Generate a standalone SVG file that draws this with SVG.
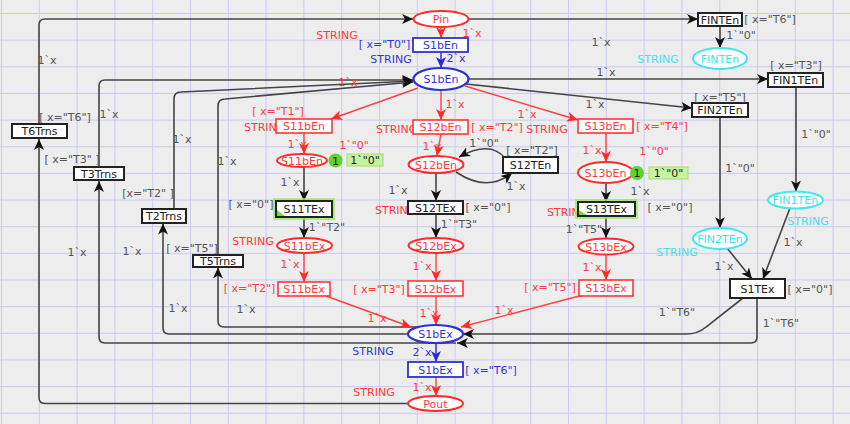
<svg xmlns="http://www.w3.org/2000/svg" width="850" height="424" viewBox="0 0 850 424">
<defs>
<pattern id="grid" patternUnits="userSpaceOnUse" x="1" y="13" width="37.8" height="26.65">
<path d="M0,0.5 H37.8 M0.5,0 V26.65" fill="none" stroke="#cacaf2" stroke-width="1"/>
</pattern>
<marker id="aK" markerUnits="userSpaceOnUse" markerWidth="12" markerHeight="10" refX="11" refY="5" orient="auto"><path d="M0,0 L11,5 L0,10 L3,5 Z" fill="#111"/></marker>
<marker id="aR" markerUnits="userSpaceOnUse" markerWidth="12" markerHeight="10" refX="11" refY="5" orient="auto"><path d="M0,0 L11,5 L0,10 L3,5 Z" fill="#ff2a2a"/></marker>
<marker id="aB" markerUnits="userSpaceOnUse" markerWidth="12" markerHeight="10" refX="11" refY="5" orient="auto"><path d="M0,0 L11,5 L0,10 L3,5 Z" fill="#2a2ad8"/></marker>
<style>
text{font-family:"DejaVu Sans",Verdana,sans-serif;font-size:11px}
.m{text-anchor:middle}
.r{fill:#ff3b3b}.b{fill:#3434d8}.c{fill:#3fe2ee}.g{fill:#555}.k{fill:#222}
.tk{fill:#fff;stroke:#222;stroke-width:2}
.tr{fill:#fff;stroke:#ff3535;stroke-width:1.6}
.tb{fill:#fff;stroke:#2f2fd8;stroke-width:1.8}
.pr{fill:#fff;stroke:#ff2a2a;stroke-width:2}
.pb{fill:#fff;stroke:#2f2fd8;stroke-width:2.2}
.pc{fill:#fff;stroke:#3fe6f2;stroke-width:2}
.ak{fill:none;stroke:#454545;stroke-width:1.6}
.ar{fill:none;stroke:#ff4040;stroke-width:1.4}
.ab{fill:none;stroke:#3030d8;stroke-width:1.5}
.glow{fill:none;stroke:#9be86a;stroke-width:4;opacity:.8}
.tok{fill:#5fd52a}
.tbox{fill:#c9f29e;stroke:#a5dd70;stroke-width:1}
</style>
</defs>
<rect width="850" height="424" fill="#ededed"/>
<rect width="850" height="424" fill="url(#grid)"/>

<g id="connectors">
<path class="ak" d="M408,403.5 H45 Q39,403.5 39,397.5 V139" marker-end="url(#aK)"/>
<path class="ak" d="M39,124 V25 Q39,19 45,19 H413" marker-end="url(#aK)"/>
<path class="ak" d="M468.5,19 H698" marker-end="url(#aK)"/>
<path class="ak" d="M99,167 V86 Q99,80 105,80 H413" marker-end="url(#aK)"/>
<path class="ak" d="M174,209 V99 Q174,92 181,92 L413,81" marker-end="url(#aK)"/>
<path class="ak" d="M218,255 V106 Q218,99 225,99 L413,82" marker-end="url(#aK)"/>
<path class="ak" d="M418,327 H224 Q218,327 218,321 V267.5" marker-end="url(#aK)"/>
<path class="ak" d="M408,334 H169 Q163,334 163,328 V223.5" marker-end="url(#aK)"/>
<path class="ak" d="M757,298 V337 Q757,343 751,343 H457" marker-end="url(#aK)"/>
<path class="ak" d="M456,343 H105 Q99,343 99,337 V181" marker-end="url(#aK)"/>
<path class="ak" d="M743,298 L706,327 Q698,334 686,334 H463" marker-end="url(#aK)"/>
<path class="ak" d="M468.5,79 H768" marker-end="url(#aK)"/>
<path class="ak" d="M466,84 L692,108" marker-end="url(#aK)"/>
<path class="ak" d="M720,26 V48" marker-end="url(#aK)"/>
<path class="ak" d="M796,87 V191.5" marker-end="url(#aK)"/>
<path class="ak" d="M720,117 V228" marker-end="url(#aK)"/>
<path class="ak" d="M727,248 L752,279" marker-end="url(#aK)"/>
<path class="ak" d="M790,208 L763,279" marker-end="url(#aK)"/>
<path class="ar" d="M441,27 V38" marker-end="url(#aR)"/>
<path class="ab" d="M441,52 V68" marker-end="url(#aB)"/>
<path class="ar" d="M418,88 L331,119" marker-end="url(#aR)"/>
<path class="ar" d="M441,90 V120" marker-end="url(#aR)"/>
<path class="ar" d="M465,86 L578,120" marker-end="url(#aR)"/>
<path class="ar" d="M304,133 V154" marker-end="url(#aR)"/>
<path class="ak" d="M304,167 V201" marker-end="url(#aK)"/>
<path class="ak" d="M304,217 V238" marker-end="url(#aK)"/>
<path class="ar" d="M304,253 V282" marker-end="url(#aR)"/>
<path class="ar" d="M326,296 L411,327" marker-end="url(#aR)"/>
<path class="ar" d="M441,134 L437,156" marker-end="url(#aR)"/>
<path class="ak" d="M436,173 V201" marker-end="url(#aK)"/>
<path class="ak" d="M436,214 V238" marker-end="url(#aK)"/>
<path class="ar" d="M436,253 V281" marker-end="url(#aR)"/>
<path class="ar" d="M436,296 V325" marker-end="url(#aR)"/>
<path class="ar" d="M606,133 V162" marker-end="url(#aR)"/>
<path class="ak" d="M606,183 V202" marker-end="url(#aK)"/>
<path class="ak" d="M606,216 V238" marker-end="url(#aK)"/>
<path class="ar" d="M606,254.5 V280" marker-end="url(#aR)"/>
<path class="ar" d="M583,295 L461,327" marker-end="url(#aR)"/>
<path class="ab" d="M436,343 V362" marker-end="url(#aB)"/>
<path class="ar" d="M436,377 V396" marker-end="url(#aR)"/>
<path class="ak" d="M505,158 Q490,140 459,157" marker-end="url(#aK)"/>
<path class="ak" d="M456,172 Q487,193 512,173" marker-end="url(#aK)"/>

<g id="arc-labels">
<text class="g m" x="47" y="64">1`x</text>
<text class="g m" x="109" y="118">1`x</text>
<text class="g m" x="182" y="143">1`x</text>
<text class="g m" x="227" y="165">1`x</text>
<text class="g m" x="77" y="256">1`x</text>
<text class="g m" x="132" y="255">1`x</text>
<text class="g m" x="178" y="312">1`x</text>
<text class="g m" x="246" y="313">1`x</text>
<text class="g m" x="290" y="186">1`x</text>
<text class="g m" x="327" y="231">1`"T2"</text>
<text class="g m" x="398" y="194">1`x</text>
<text class="g m" x="484" y="147">1`"0"</text>
<text class="g m" x="516" y="190">1`x</text>
<text class="g m" x="459" y="228">1`"T3"</text>
<text class="g m" x="640" y="195">1`x</text>
<text class="g m" x="584" y="233">1`"T5"</text>
<text class="g m" x="601" y="46">1`x</text>
<text class="g m" x="606" y="76">1`x</text>
<text class="g m" x="595" y="108">1`x</text>
<text class="g m" x="741" y="39">1`"0"</text>
<text class="g m" x="816" y="138">1`"0"</text>
<text class="g m" x="740" y="172">1`"0"</text>
<text class="g m" x="724" y="270">1`x</text>
<text class="g m" x="793" y="246">1`x</text>
<text class="g m" x="677" y="316">1`"T6"</text>
<text class="g m" x="781" y="327">1`"T6"</text>
<text class="r m" x="472" y="37">1`x</text>
<text class="r m" x="348" y="86">1`x</text>
<text class="r m" x="297" y="148">1`x</text>
<text class="r m" x="290" y="268">1`x</text>
<text class="r m" x="377" y="322">1`x</text>
<text class="r m" x="455" y="108">1`x</text>
<text class="r m" x="432" y="150">1`x</text>
<text class="r m" x="422" y="270">1`x</text>
<text class="r m" x="429" y="317">1`x</text>
<text class="r m" x="527" y="118">1`x</text>
<text class="r m" x="592" y="154">1`x</text>
<text class="r m" x="592" y="271">1`x</text>
<text class="r m" x="504" y="314">1`x</text>
<text class="r m" x="422" y="391">1`x</text>
<text class="b m" x="456" y="62">2`x</text>
<text class="b m" x="422" y="356">2`x</text>
<text class="r" x="244" y="131">STRING</text>
<text class="r" x="376" y="133">STRING</text>
<text class="r" x="375" y="214">STRING</text>
<text class="r" x="547" y="216">STRING</text>
</g>
</g>

<g id="Pin"><ellipse class="pr" cx="441" cy="19" rx="27.5" ry="8"/><text class="r m" x="441" y="23">Pin</text><text class="r m" x="337" y="39">STRING</text></g>
<g id="S1bEn_t"><rect class="tb" x="413" y="38" width="55" height="14"/><text class="b m" x="440.5" y="49">S1bEn</text><text class="b m" x="384.5" y="48">[ x="T0"]</text></g>
<g id="S1bEn_p"><ellipse class="pb" cx="441" cy="79" rx="27.5" ry="11"/><text class="b m" x="441" y="83">S1bEn</text><text class="b m" x="391" y="63">STRING</text></g>

<g id="T6Trns"><rect class="tk" x="12" y="124" width="55" height="14"/><text class="k m" x="39.5" y="135">T6Trns</text><text class="g m" x="65" y="121">[ x="T6"]</text></g>
<g id="T3Trns"><rect class="tk" x="74" y="167" width="50" height="13"/><text class="k m" x="99" y="177.5">T3Trns</text><text class="g m" x="72" y="163">[ x="T3" ]</text></g>
<g id="T2Trns"><rect class="tk" x="142" y="209" width="44" height="14"/><text class="k m" x="164" y="220">T2Trns</text><text class="g m" x="148" y="197">[x="T2" ]</text></g>
<g id="T5Trns"><rect class="tk" x="193" y="255" width="50" height="12"/><text class="k m" x="218" y="265">T5Trns</text><text class="g m" x="192" y="252">[ x="T5"]</text></g>

<g id="S11bEn_t"><rect class="tr" x="276" y="119" width="56" height="14"/><text class="r m" x="304" y="130">S11bEn</text><text class="r m" x="278" y="115">[ x="T1"]</text></g>
<g id="S11bEn_p"><ellipse class="pr" cx="302" cy="160.5" rx="25" ry="6.5"/><text class="r m" x="302" y="164.5">S11bEn</text><text class="r m" x="354" y="149">1`"0"</text>
<circle class="tok" cx="335.5" cy="160.5" r="7"/><text class="k m" x="335.5" y="164.5">1</text>
<rect class="tbox" x="347" y="154" width="36" height="12"/><text class="k m" x="365" y="164">1`"0"</text></g>
<g id="S11TEx"><rect class="glow" x="275" y="200" width="58" height="18"/><rect class="tk" x="276" y="201" width="56" height="16"/><polygon points="277,210 277,216 285,216" fill="#7ad84a"/><text class="k m" x="304" y="213">S11TEx</text><text class="g m" x="251" y="208">[ x="0"]</text></g>
<g id="S11bEx_p"><ellipse class="pr" cx="304.5" cy="245.5" rx="27.5" ry="7.5"/><text class="r m" x="304.5" y="249.5">S11bEx</text><text class="r m" x="253" y="245">STRING</text></g>
<g id="S11bEx_t"><rect class="tr" x="278" y="282" width="52" height="14"/><text class="r m" x="304" y="293">S11bEx</text><text class="r m" x="249.5" y="292">[ x="T2"]</text></g>

<g id="S12bEn_t"><rect class="tr" x="413" y="120" width="55" height="14"/><text class="r m" x="440.5" y="131">S12bEn</text><text class="r m" x="497" y="131">[ x="T2"]</text></g>
<g id="S12bEn_p"><ellipse class="pr" cx="436" cy="164.5" rx="27.5" ry="8.5"/><text class="r m" x="436" y="168.5">S12bEn</text></g>
<g id="S12TEn"><rect class="tk" x="503" y="157" width="55" height="16"/><text class="k m" x="530.5" y="169">S12TEn</text><text class="g m" x="532" y="154">[ x="T2"]</text></g>
<g id="S12TEx"><rect class="tk" x="408" y="201" width="55" height="13"/><text class="k m" x="435.5" y="211.5">S12TEx</text><text class="g m" x="488" y="211">[ x="0"]</text></g>
<g id="S12bEx_p"><ellipse class="pr" cx="436" cy="245.5" rx="27.5" ry="7.5"/><text class="r m" x="436" y="249.5">S12bEx</text></g>
<g id="S12bEx_t"><rect class="tr" x="408" y="281" width="55" height="15"/><text class="r m" x="435.5" y="292.5">S12bEx</text><text class="r m" x="379" y="293">[ x="T3"]</text></g>

<g id="S13bEn_t"><rect class="tr" x="578" y="119" width="55" height="14"/><text class="r m" x="605.5" y="130">S13bEn</text><text class="r m" x="662" y="130">[ x="T4"]</text><text class="r m" x="547" y="133">STRING</text></g>
<g id="S13bEn_p"><ellipse class="pr" cx="605.5" cy="172.5" rx="27.5" ry="10.5"/><text class="r m" x="605.5" y="176.5">S13bEn</text><text class="r m" x="654" y="155">1`"0"</text>
<circle class="tok" cx="637" cy="173" r="7"/><text class="k m" x="637" y="177">1</text>
<rect class="tbox" x="649" y="167" width="39" height="12"/><text class="k m" x="668.5" y="177">1`"0"</text></g>
<g id="S13TEx"><rect class="glow" x="577" y="201" width="59" height="16"/><rect class="tk" x="578" y="202" width="57" height="14"/><polygon points="579,210 579,215 587,215" fill="#7ad84a"/><text class="k m" x="606.5" y="213">S13TEx</text><text class="g m" x="670" y="211">[ x="0"]</text></g>
<g id="S13bEx_p"><ellipse class="pr" cx="606" cy="246.5" rx="27.5" ry="8"/><text class="r m" x="606" y="250.5">S13bEx</text></g>
<g id="S13bEx_t"><rect class="tr" x="579" y="280" width="54" height="16"/><text class="r m" x="606" y="292">S13bEx</text><text class="r m" x="550" y="291">[ x="T5"]</text></g>

<g id="S1bEx_p"><ellipse class="pb" cx="435.5" cy="334" rx="27.5" ry="9"/><text class="b m" x="435.5" y="338">S1bEx</text><text class="b m" x="373" y="355">STRING</text></g>
<g id="S1bEx_t"><rect class="tb" x="408" y="362" width="55" height="15"/><text class="b m" x="435.5" y="373.5">S1bEx</text><text class="b m" x="491" y="374">[ x="T6"]</text></g>
<g id="Pout"><ellipse class="pr" cx="435.5" cy="403.5" rx="27.5" ry="7.5"/><text class="r m" x="435.5" y="407.5">Pout</text><text class="r m" x="374" y="396">STRING</text></g>

<g id="FINTEn_t"><rect class="tk" x="698" y="13" width="44" height="13"/><text class="k m" x="720" y="23.5">FINTEn</text><text class="g m" x="770" y="23">[ x="T6"]</text></g>
<g id="FINTEn_p"><ellipse class="pc" cx="720" cy="58.5" rx="27" ry="10.5"/><text class="c m" x="720" y="62.5">FINTEn</text><text class="c m" x="658" y="63">STRING</text></g>
<g id="FIN1TEn_t"><rect class="tk" x="768" y="73" width="55" height="14"/><text class="k m" x="795.5" y="84">FIN1TEn</text><text class="g m" x="796" y="69">[ x="T3"]</text></g>
<g id="FIN1TEn_p"><ellipse class="pc" cx="795.5" cy="200" rx="27.5" ry="8.5"/><text class="c m" x="795.5" y="204">FIN1TEn</text><text class="c m" x="808" y="225">STRING</text></g>
<g id="FIN2TEn_t"><rect class="tk" x="692" y="103" width="56" height="14"/><text class="k m" x="720" y="114">FIN2TEn</text><text class="g m" x="720" y="101">[ x="T5"]</text></g>
<g id="FIN2TEn_p"><ellipse class="pc" cx="720" cy="238.5" rx="27" ry="10.5"/><text class="c m" x="720" y="242.5">FIN2TEn</text><text class="c m" x="677" y="256">STRING</text></g>
<g id="S1TEx"><rect class="tk" x="730" y="279" width="55" height="19" stroke-width="2.5"/><text class="k m" x="757.5" y="292.5">S1TEx</text><text class="g m" x="810" y="293">[ x="0"]</text></g>
</svg>
